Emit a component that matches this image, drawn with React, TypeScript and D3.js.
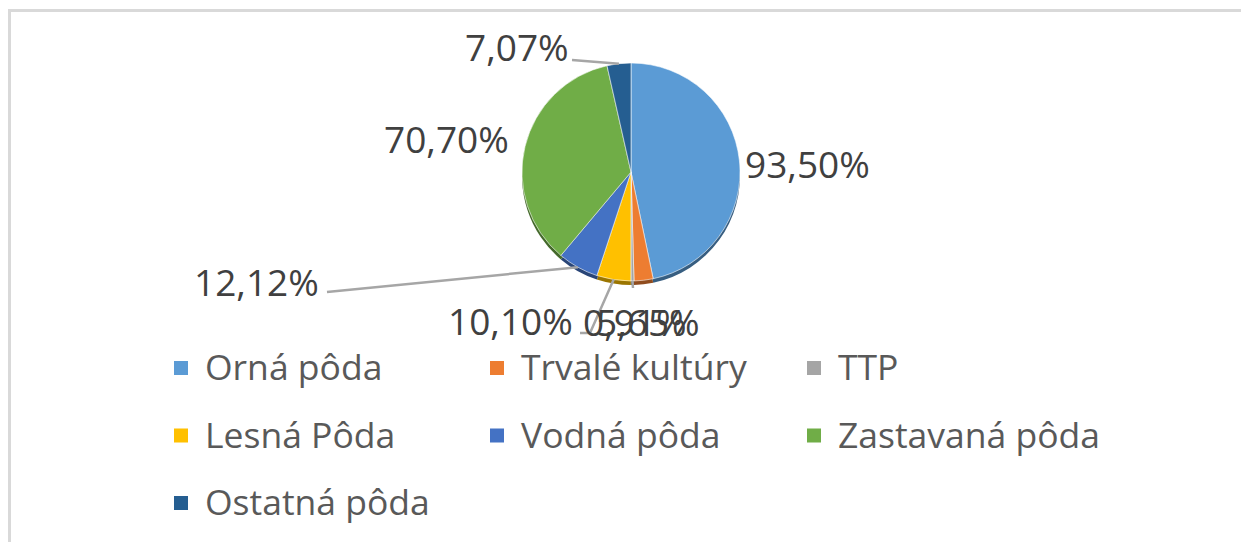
import React from "react";
import * as d3 from "d3";

const categories = ["Orná pôda", "Trvalé kultúry", "TTP", "Lesná Pôda", "Vodná pôda", "Zastavaná pôda", "Ostatná pôda"];
const values = [93.5, 5.65, 0.91, 10.1, 12.12, 70.7, 7.07];
const colors = ["#5B9BD5", "#ED7D31", "#A5A5A5", "#FFC000", "#4472C4", "#70AD47", "#255E91"];

// label layout: text anchor position (start x, baseline y) and leader-line elbow points
const labelPos: [number, number][] = [
  [745, 178],
  [596, 336],
  [583, 336],
  [448, 335],
  [194, 296],
  [384, 153],
  [465, 61],
];
const leaders: ([number, number][] | null)[] = [
  null,
  null,
  [[633, 288]],
  [[590, 333], [580, 333]],
  [[327, 292]],
  null,
  [[572, 60]],
];

const W = 1241;
const H = 542;
const cx = 631;
const cy = 172;
const R = 109;

const fmt = (v: number) => d3.format(".2f")(v).replace(".", ",") + "%";

export default function App() {
  const pie = d3.pie<number>().sort(null).startAngle(0).endAngle(2 * Math.PI);
  const arcs = pie(values);
  const arc = d3.arc<d3.PieArcDatum<number>>().innerRadius(0).outerRadius(R);

  const edgePoint = (a: d3.PieArcDatum<number>): [number, number] => {
    const m = (a.startAngle + a.endAngle) / 2;
    return [cx + R * Math.sin(m), cy - R * Math.cos(m)];
  };

  const legendCols = [174, 490, 807];
  const legendRows = [380, 447.5, 515];

  return (
    <svg width={W} height={H} style={{ position: "absolute", left: 0, top: 0 }} fontFamily="'Open Sans', sans-serif">
      <rect x={0} y={0} width={W} height={H} fill="#ffffff" />
      <line x1={9} y1={10.5} x2={1241} y2={10.5} stroke="#d9d9d9" strokeWidth={3} />
      <line x1={9.5} y1={9} x2={9.5} y2={542} stroke="#d9d9d9" strokeWidth={3} />

      {/* 3D shadow layer */}
      <g transform={`translate(${cx},${cy + 4})`}>
        {arcs.map((a, i) => (
          <path key={i} d={arc(a) || ""} fill={d3.color(colors[i])!.darker(1.4).toString()} />
        ))}
      </g>
      <g transform={`translate(${cx},${cy})`}>
        {arcs.map((a, i) => (
          <path key={i} d={arc(a) || ""} fill={colors[i]} stroke="#ffffff" strokeWidth={0.8} strokeOpacity={0.7} />
        ))}
      </g>

      {/* leader lines */}
      {arcs.map((a, i) => {
        const pts = leaders[i];
        if (!pts) return null;
        const all = [edgePoint(a), ...pts];
        return (
          <polyline
            key={i}
            points={all.map((p) => p.join(",")).join(" ")}
            fill="none"
            stroke="#a6a6a6"
            strokeWidth={2.5}
          />
        );
      })}

      {/* data labels */}
      {values.map((v, i) => (
        <text key={i} x={labelPos[i][0]} y={labelPos[i][1]} fontSize={37} fill="#404040">
          {fmt(v)}
        </text>
      ))}

      {/* legend */}
      {categories.map((c, i) => {
        const col = i % 3;
        const row = Math.floor(i / 3);
        const x = legendCols[col];
        const y = legendRows[row];
        return (
          <g key={c}>
            <rect x={x} y={y - 19} width={14} height={14} fill={colors[i]} />
            <text x={x + 31} y={y} fontSize={35.5} fill="#595959">
              {c}
            </text>
          </g>
        );
      })}
    </svg>
  );
}
